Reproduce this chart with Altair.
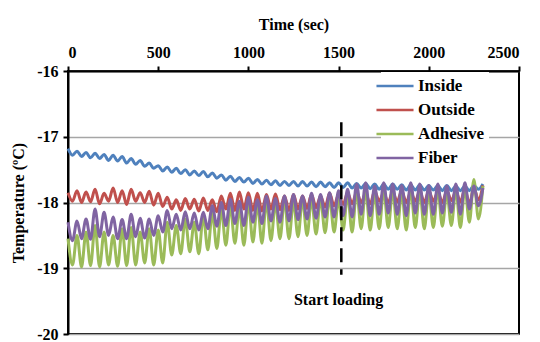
import altair as alt
import pandas as pd

# ---- data ----
series_names = ["Inside", "Outside", "Adhesive", "Fiber"]
series_colors = ["#4F81BD", "#C0504D", "#9BBB59", "#8064A2"]

time_sec = list(range(0, 2325, 25))  # sampling instants (s)

inside = [
    -17.18, -17.28, -17.22, -17.30, -17.24, -17.32, -17.25, -17.33, -17.27, -17.36,
    -17.28, -17.37, -17.30, -17.40, -17.33, -17.42, -17.36, -17.45, -17.40, -17.48,
    -17.44, -17.52, -17.46, -17.54, -17.48, -17.56, -17.50, -17.58, -17.52, -17.59,
    -17.53, -17.61, -17.55, -17.63, -17.58, -17.66, -17.60, -17.68, -17.62, -17.69,
    -17.63, -17.71, -17.65, -17.72, -17.66, -17.73, -17.67, -17.74, -17.68, -17.74,
    -17.68, -17.75, -17.68, -17.75, -17.69, -17.76, -17.69, -17.76, -17.70, -17.77,
    -17.70, -17.77, -17.70, -17.78, -17.71, -17.78, -17.71, -17.79, -17.72, -17.80,
    -17.72, -17.80, -17.72, -17.80, -17.73, -17.81, -17.73, -17.81, -17.73, -17.81,
    -17.74, -17.81, -17.74, -17.82, -17.74, -17.82, -17.75, -17.82, -17.75, -17.82,
    -17.74, -17.80, -17.72,
]
outside = [
    -17.85, -17.98, -17.82, -18.00, -17.84, -17.99, -17.80, -18.02, -17.86, -17.98,
    -17.78, -18.00, -17.82, -18.03, -17.80, -17.98, -17.85, -18.00, -17.83, -18.04,
    -17.86, -18.06, -17.92, -18.10, -17.96, -18.12, -17.94, -18.10, -17.95, -18.13,
    -17.93, -18.12, -17.96, -18.14, -17.90, -18.10, -17.86, -18.12, -17.84, -18.10,
    -17.85, -18.12, -17.86, -18.13, -17.88, -18.10, -17.87, -18.11, -17.90, -18.12,
    -17.88, -18.10, -17.90, -18.09, -17.88, -18.08, -17.90, -18.07, -17.86, -18.05,
    -17.88, -18.03, -17.85, -18.02, -17.84, -18.00, -17.86, -18.02, -17.83, -17.98,
    -17.85, -18.00, -17.84, -17.99, -17.82, -18.00, -17.84, -17.98, -17.83, -18.00,
    -17.82, -17.98, -17.84, -18.00, -17.82, -17.97, -17.83, -17.99, -17.80, -18.02,
    -17.78, -17.96, -17.74,
]
adhesive = [
    -18.55, -18.95, -18.50, -18.98, -18.45, -18.96, -18.35, -18.98, -18.45, -18.95,
    -18.50, -18.97, -18.40, -18.96, -18.38, -18.95, -18.45, -18.92, -18.40, -18.95,
    -18.42, -18.92, -18.30, -18.80, -18.35, -18.78, -18.25, -18.75, -18.30, -18.78,
    -18.20, -18.72, -18.15, -18.70, -18.10, -18.65, -18.05, -18.62, -18.08, -18.65,
    -18.00, -18.60, -18.02, -18.62, -17.98, -18.58, -18.00, -18.55, -17.96, -18.55,
    -17.98, -18.52, -17.95, -18.50, -17.95, -18.48, -17.94, -18.46, -17.92, -18.45,
    -17.95, -18.42, -17.88, -18.45, -17.82, -18.40, -17.80, -18.42, -17.85, -18.40,
    -17.80, -18.38, -17.82, -18.40, -17.84, -18.42, -17.80, -18.38, -17.82, -18.40,
    -17.84, -18.38, -17.80, -18.36, -17.84, -18.35, -17.80, -18.38, -17.78, -18.30,
    -17.65, -18.25, -17.75,
]
fiber = [
    -18.30, -18.58, -18.28, -18.55, -18.25, -18.56, -18.10, -18.52, -18.15, -18.50,
    -18.22, -18.55, -18.26, -18.55, -18.18, -18.52, -18.24, -18.54, -18.25, -18.50,
    -18.20, -18.45, -18.12, -18.40, -18.18, -18.42, -18.14, -18.40, -18.16, -18.42,
    -18.15, -18.40, -18.05, -18.36, -18.00, -18.35, -17.95, -18.32, -17.98, -18.35,
    -17.92, -18.30, -17.96, -18.32, -17.90, -18.28, -17.94, -18.30, -17.90, -18.28,
    -17.88, -18.26, -17.90, -18.25, -17.86, -18.24, -17.88, -18.22, -17.85, -18.22,
    -17.82, -18.20, -17.80, -18.22, -17.72, -18.18, -17.70, -18.20, -17.75, -18.18,
    -17.70, -18.16, -17.72, -18.18, -17.74, -18.20, -17.70, -18.16, -17.72, -18.18,
    -17.74, -18.18, -17.72, -18.16, -17.75, -18.15, -17.72, -18.18, -17.70, -18.10,
    -17.75, -18.05, -17.78,
]

x_ticks = [0, 500, 1000, 1500, 2000, 2500]
y_ticks = [-20, -19, -18, -17, -16]

marker_time = [1515]
marker_top = [-16.78]
marker_bottom = [-19.10]

note_text = ["Start loading"]
note_time = [1500]
note_temp = [-19.48]

# ---- tables ----
rows = []
for name, vals in zip(series_names, [inside, outside, adhesive, fiber]):
    for t, v in zip(time_sec, vals):
        rows.append({"time": t, "temp": v, "series": name})
df = pd.DataFrame(rows)

marker_df = pd.DataFrame({"time": marker_time, "top": marker_top, "bottom": marker_bottom})
note_df = pd.DataFrame({"text": note_text, "time": note_time, "temp": note_temp})

FONT = "Liberation Serif"

x_enc = alt.X(
    "time:Q",
    scale=alt.Scale(domain=[0, 2500], nice=False),
    axis=alt.Axis(
        orient="top", title="Time (sec)", values=x_ticks, grid=False,
        labelExpr="'' + datum.value", labelPadding=6, titlePadding=12,
    ),
)
y_enc = alt.Y(
    "temp:Q",
    scale=alt.Scale(domain=[-20, -16], nice=False),
    axis=alt.Axis(
        title="Temperature (ºC)", values=y_ticks, grid=True,
        labelExpr="'' + datum.value", labelPadding=5, titlePadding=10,
    ),
)
color_enc = alt.Color(
    "series:N",
    scale=alt.Scale(domain=series_names, range=series_colors),
    legend=alt.Legend(
        title=None, orient="none", legendX=313, legendY=1,
        fillColor="white", padding=4,
        symbolType="M-2.18,0H2.18", symbolSize=289, symbolStrokeWidth=2.5,
        symbolFillColor="transparent",
        labelFont=FONT, labelFontSize=17, labelFontWeight="bold", labelColor="black",
        labelOffset=13, rowPadding=6,
    ),
)

layers = []
for name in series_names:
    layers.append(
        alt.Chart(df)
        .transform_filter(alt.datum.series == name)
        .mark_line(strokeWidth=3, interpolate="monotone")
        .encode(x=x_enc, y=y_enc, color=color_enc)
    )

rule = alt.Chart(marker_df).mark_rule(
    color="black", strokeWidth=2.5, strokeDash=[14, 7]
).encode(x="time:Q", y="top:Q", y2="bottom:Q")

note = alt.Chart(note_df).mark_text(
    font=FONT, fontSize=16, fontWeight="bold", color="black"
).encode(x="time:Q", y="temp:Q", text="text:N")

chart = (
    alt.layer(*layers, rule, note)
    .properties(
        width=451, height=263,
        autosize=alt.AutoSizeParams(type="none"),
        padding={"left": 60, "top": 63, "right": 8, "bottom": 9},
    )
    .configure_view(stroke="black", strokeWidth=2)
    .configure_axis(
        domainColor="black", domainWidth=2, tickColor="black", tickWidth=2, tickSize=5,
        labelFont=FONT, labelFontSize=16, labelFontWeight="bold", labelColor="black",
        titleFont=FONT, titleFontSize=16, titleFontWeight="bold", titleColor="black",
        gridColor="#A6A6A6", gridWidth=1.5,
    )
)

chart.save("out.html", embed_options={"renderer": "svg", "actions": False})
